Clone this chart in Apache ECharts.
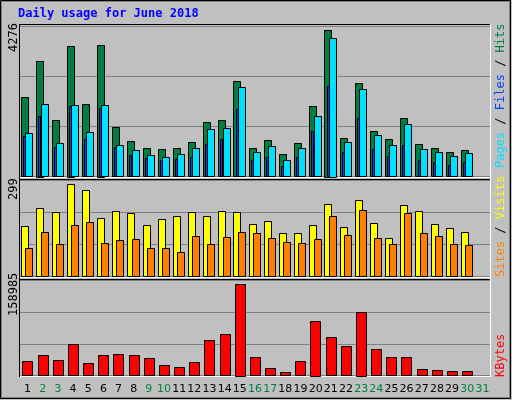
<!DOCTYPE html>
<html><head><meta charset="utf-8">
<script src="https://cdn.jsdelivr.net/npm/echarts@6/dist/echarts.min.js"></script>
<style>html,body{margin:0;padding:0;background:#c0c0c0}#c{width:512px;height:400px}</style>
</head><body><div id="c"></div>
<script>
const days = ['1','2','3','4','5','6','7','8','9','10','11','12','13','14','15','16','17','18','19','20','21','22','23','24','25','26','27','28','29','30','31'];
const weekend = ['2','3','9','10','16','17','23','24','30','31'];
const hits = [2247,3295,1595,3719,2048,3748,1397,1001,802,774,802,972,1539,1595,2700,802,1029,632,944,1992,4172,1086,2643,1284,1057,1652,916,802,689,746];
const files = [1227,2048,944,2020,1256,2020,887,746,604,548,632,802,1340,1369,2530,689,859,463,802,1709,3946,972,2473,1171,887,1482,774,689,576,661];
const pages = [1142,1709,831,1992,1057,1935,831,604,519,463,491,548,916,1057,1907,463,548,293,548,1284,2558,689,1652,774,576,887,463,406,321,406];
const visits = [156,212,199,287,268,181,202,196,159,178,187,199,187,202,199,162,171,134,134,159,224,153,237,165,118,221,202,162,150,137];
const sites = [87,137,100,159,168,103,112,115,87,87,75,125,100,121,137,134,118,106,103,115,187,128,206,118,100,196,134,125,100,97];
const kbytes = [23900,33900,25600,52300,20600,33900,35600,33900,28900,17200,13900,22200,58900,68900,152300,30600,12200,5600,23900,90600,63900,48900,105600,43900,30600,30600,10600,8900,7200,7200];
const maxHits = 4276, maxVisits = 299, maxKB = 158985;

function rectSeries(gi, data, color, off, w) {
  return {
    type: 'custom', xAxisIndex: gi, yAxisIndex: gi,
    data: data.map((v, i) => [i, v]),
    renderItem: function (params, api) {
      const bw = api.size([1, 0])[0];
      const p0 = api.coord([api.value(0), 0]);
      const p1 = api.coord([api.value(0), api.value(1)]);
      const x = p0[0] - bw / 2 + bw * off;
      return { type: 'rect', shape: { x: Math.round(x) + 0.5, y: Math.round(p1[1]) + 0.5, width: Math.max(1, Math.round(bw * w)), height: Math.round(p0[1] - p1[1]) },
        style: { fill: color, stroke: '#000', lineWidth: 1 } };
    }
  };
}
const grids = [
  { left: 20, top: 26, width: 470, height: 150.5 },
  { left: 20, top: 180, width: 470, height: 96.3 },
  { left: 20, top: 280, width: 470, height: 95.7 }
];
const maxes = [maxHits, maxVisits, maxKB];
const chart = echarts.init(document.getElementById('c'));
chart.setOption({
  backgroundColor: '#c0c0c0',
  animation: false,
  grid: grids.map(g => Object.assign({ show: true, backgroundColor: '#c0c0c0', borderColor: '#000', borderWidth: 0 }, g)),
  xAxis: grids.map((g, i) => ({
    type: 'category', gridIndex: i, data: days, boundaryGap: true,
    axisLine: { show: false }, axisTick: { show: false },
    axisLabel: i === 2 ? {
      show: true, interval: 0, margin: 8, fontFamily: 'DejaVu Sans', fontSize: 11,
      formatter: v => weekend.includes(v) ? '{w|' + v + '}' : '{d|' + v + '}',
      rich: { w: { color: '#008040', fontFamily: 'DejaVu Sans', fontSize: 11 }, d: { color: '#000', fontFamily: 'DejaVu Sans', fontSize: 11 } }
    } : { show: false }
  })),
  yAxis: grids.map((g, i) => ({
    type: 'value', gridIndex: i, min: 0, max: maxes[i], interval: maxes[i] / 3,
    axisLabel: { show: false }, axisLine: { show: false }, axisTick: { show: false },
    splitLine: { show: true, lineStyle: { color: '#808080', width: 1 } }
  })),
  series: [
    rectSeries(0, hits, '#008040', 0.08, 0.48),
    rectSeries(0, files, '#00e0ff', 0.36, 0.48),
    rectSeries(0, pages, '#0040ff', 0.22, 0.14),
    rectSeries(1, visits, '#ffff00', 0.08, 0.48),
    rectSeries(1, sites, '#ff8000', 0.36, 0.48),
    rectSeries(2, kbytes, '#ff0000', 0.16, 0.66)
  ],
  graphic: [
    { type: 'rect', shape: { x: 0.5, y: 0.5, width: 510, height: 398 }, style: { fill: 'none', stroke: '#000', lineWidth: 1 }, silent: true },
    { type: 'rect', shape: { x: 1.5, y: 1.5, width: 508, height: 396 }, style: { fill: 'none', stroke: '#808080', lineWidth: 1 }, silent: true },
    { type: 'text', left: 18, top: 8, style: { text: 'Daily usage for June 2018', fill: '#0000ff', font: 'bold 12px "DejaVu Sans Mono"' } },
    { type: 'line', shape: { x1: 20, y1: 24.5, x2: 491, y2: 24.5 }, style: { stroke: '#000' } },
    { type: 'line', shape: { x1: 20, y1: 177.5, x2: 491, y2: 177.5 }, style: { stroke: '#fff' } },
    { type: 'line', shape: { x1: 20, y1: 179.5, x2: 491, y2: 179.5 }, style: { stroke: '#000' } },
    { type: 'line', shape: { x1: 20, y1: 277.5, x2: 491, y2: 277.5 }, style: { stroke: '#fff' } },
    { type: 'line', shape: { x1: 20, y1: 279.5, x2: 491, y2: 279.5 }, style: { stroke: '#000' } },
    { type: 'line', shape: { x1: 20, y1: 376.5, x2: 491, y2: 376.5 }, style: { stroke: '#fff' } },
    { type: 'line', shape: { x1: 19.5, y1: 24, x2: 19.5, y2: 377 }, style: { stroke: '#000' } },
    { type: 'line', shape: { x1: 490.5, y1: 24, x2: 490.5, y2: 377 }, style: { stroke: '#fff' } },
    { type: 'text', x: 8, y: 52, rotation: Math.PI / 2, style: { text: '4276', fill: '#000', font: '12px "DejaVu Sans Mono"' } },
    { type: 'text', x: 8, y: 200, rotation: Math.PI / 2, style: { text: '299', fill: '#000', font: '12px "DejaVu Sans Mono"' } },
    { type: 'text', x: 8, y: 316, rotation: Math.PI / 2, style: { text: '158985', fill: '#000', font: '12px "DejaVu Sans Mono"' } },
    { type: 'text', x: 495, y: 168, rotation: Math.PI / 2, style: { text: '{p|Pages}{s| / }{f|Files}{s| / }{h|Hits}', font: '12px "DejaVu Sans Mono"',
      rich: { p: { fill: '#00e0ff', font: '12px "DejaVu Sans Mono"' }, f: { fill: '#0040ff', font: '12px "DejaVu Sans Mono"' }, h: { fill: '#008040', font: '12px "DejaVu Sans Mono"' }, s: { fill: '#000', font: '12px "DejaVu Sans Mono"' } } } },
    { type: 'text', x: 495, y: 277, rotation: Math.PI / 2, style: { text: '{a|Sites}{s| / }{b|Visits}', font: '12px "DejaVu Sans Mono"',
      rich: { a: { fill: '#ff8000', font: '12px "DejaVu Sans Mono"' }, b: { fill: '#ffff00', font: '12px "DejaVu Sans Mono"' }, s: { fill: '#000', font: '12px "DejaVu Sans Mono"' } } } },
    { type: 'text', x: 495, y: 377, rotation: Math.PI / 2, style: { text: 'KBytes', fill: '#ff0000', font: '12px "DejaVu Sans Mono"' } }
  ]
});
</script></body></html>
